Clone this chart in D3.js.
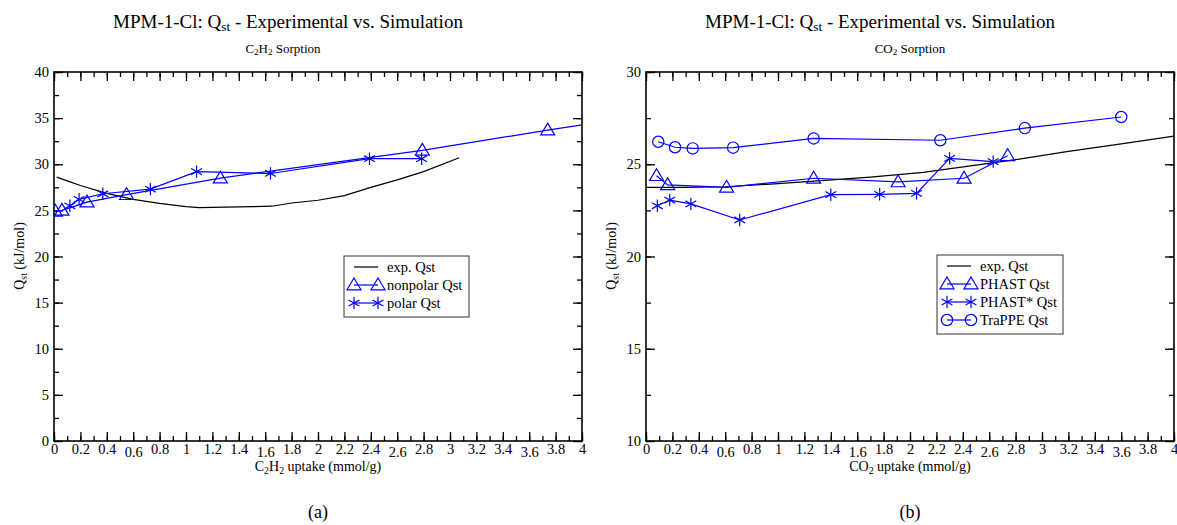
<!DOCTYPE html>
<html>
<head>
<meta charset="utf-8">
<script src="https://cdn.jsdelivr.net/npm/d3@7.9.0/dist/d3.min.js"></script>
<style>
  body { margin: 0; background: #fff; }
  svg { display: block; }
  text { font-family: "Liberation Serif", "Times New Roman", serif; fill: #000; }
</style>
</head>
<body>
<svg id="chart" width="1177" height="525"></svg>
<script>
// ---- data: panel (a), C2H2 ----
const c2h2Exp = [[0.02,28.6],[0.1,28.2],[0.2,27.7],[0.4,26.85],[0.6,26.2],[0.8,25.75],[1.0,25.4],[1.1,25.3],
  [1.3,25.35],[1.5,25.4],[1.65,25.45],[1.8,25.8],[2.0,26.1],[2.2,26.6],[2.4,27.5],[2.6,28.3],[2.8,29.2],[3.07,30.7]];
const c2h2Nonpolar = [[0.01,24.9],[0.06,25.0],[0.25,25.9],[0.55,26.7],[1.26,28.5],[2.79,31.5],[3.74,33.7],[4.3,34.9]];
const c2h2Polar = [[0.12,25.5],[0.19,26.2],[0.37,26.8],[0.73,27.3],[1.08,29.2],[1.64,29.0],[2.39,30.6],[2.785,30.6]];

// ---- data: panel (b), CO2 ----
const co2Exp = [[0,23.75],[0.3,23.75],[0.6,23.78],[1.0,23.95],[1.3,24.1],[1.7,24.3],[2.1,24.56],[2.5,24.95],
  [2.8,25.25],[3.2,25.7],[3.6,26.1],[4.0,26.53]];
const co2Phast = [[0.08,24.38],[0.164,23.88],[0.61,23.75],[1.27,24.24],[1.91,24.04],[2.41,24.24],[2.74,25.46]];
const co2PhastStar = [[0.086,22.75],[0.18,23.06],[0.34,22.85],[0.71,21.98],[1.40,23.35],[1.77,23.37],[2.05,23.42],[2.30,25.32],[2.63,25.14]];
const co2Trappe = [[0.093,26.22],[0.22,25.92],[0.354,25.86],[0.66,25.9],[1.27,26.4],[2.23,26.3],[2.87,26.96],[3.6,27.56]];

const xMajor = d3.range(0, 21).map(i => i / 5);
const xMinor = d3.range(0, 41).map(i => i / 10);

const svg = d3.select('#chart');
const blue = '#0000ff';

const markers = {
  triangle: 'M0,-7L7,4.8L-7,4.8Z',
  star: 'M0,-6.2V6.2M-5.4,-3.1L5.4,3.1M-5.4,3.1L5.4,-3.1',
  circle: d3.symbol(d3.symbolCircle, 100)(),
  none: null
};

function sub(textSel, parts, size) {
  // parts: [string, isSubscript]
  parts.forEach(([s, isSub]) => {
    textSel.append('tspan')
      .attr('font-size', isSub ? size * 0.7 : size)
      .attr('baseline-shift', isSub ? '-25%' : null)
      .text(s);
  });
}

function drawPanel(cfg) {
  const x = d3.scaleLinear().domain([0, 4]).range([cfg.left, cfg.right]);
  const y = d3.scaleLinear().domain(cfg.yDomain).range([441, 72]);
  const g = svg.append('g');
  const cx = (cfg.left + cfg.right) / 2;

  g.append('clipPath').attr('id', 'clip' + cfg.id)
    .append('rect').attr('x', cfg.left).attr('y', 72)
    .attr('width', cfg.right - cfg.left).attr('height', 441 - 72);

  // titles
  const t = g.append('text').attr('x', cx + cfg.titleDx).attr('y', 28).attr('text-anchor', 'middle');
  sub(t, [['MPM-1-Cl: Q', false], ['st', true], [' - Experimental vs. Simulation', false]], 19);
  const st = g.append('text').attr('x', cx + cfg.subDx).attr('y', 53).attr('text-anchor', 'middle');
  sub(st, cfg.subtitle, 13);

  // axes, inward ticks on all four sides
  const axes = [
    [d3.axisBottom(x), `translate(0,441)`, xMinor, xMajor, true],
    [d3.axisTop(x), `translate(0,72)`, xMinor, xMajor, false],
    [d3.axisLeft(y), `translate(${cfg.left},0)`, cfg.yMinor, cfg.yMajor, true],
    [d3.axisRight(y), `translate(${cfg.right},0)`, cfg.yMinor, cfg.yMajor, false]
  ];
  axes.forEach(([ax, tr, minor, major, labels], i) => {
    const gm = g.append('g').attr('transform', tr)
      .call(ax.tickValues(minor).tickSize(-5).tickFormat(''));
    gm.select('.domain').remove();
    const gM = g.append('g').attr('transform', tr)
      .call(ax.tickValues(major).tickSize(-9).tickPadding(labels ? (i === 0 ? 3 : 5) : 0)
        .tickFormat(labels ? d3.format('~g') : ''));
    gM.select('.domain').remove();
    gM.selectAll('text').attr('font-size', 14.5);
    gm.selectAll('line').attr('stroke-width', 1.3);
    gM.selectAll('line').attr('stroke-width', 1.3);
    if (i === 0) {
      // the .6 labels sit a little lower in the original render
      gM.selectAll('.tick text').filter(d => Math.abs(d - Math.floor(d) - 0.6) < 0.01)
        .attr('dy', '0.93em');
    }
  });

  g.append('rect').attr('x', cfg.left).attr('y', 72)
    .attr('width', cfg.right - cfg.left).attr('height', 441 - 72)
    .attr('fill', 'none').attr('stroke', '#000').attr('stroke-width', 1.6);

  // axis labels
  const xl = g.append('text').attr('x', cx).attr('y', 471).attr('text-anchor', 'middle');
  sub(xl, cfg.xLabel, 14);
  const yl = g.append('text').attr('transform', `translate(${cfg.left - 30},256) rotate(-90)`)
    .attr('text-anchor', 'middle');
  sub(yl, [['Q', false], ['st', true], [' (kJ/mol)', false]], 14);
  g.append('text').attr('x', cx).attr('y', 518).attr('text-anchor', 'middle')
    .attr('font-size', 18).text(cfg.panel);

  // series
  const line = d3.line().x(d => x(d[0])).y(d => y(d[1]));
  const plot = g.append('g').attr('clip-path', `url(#clip${cfg.id})`);
  cfg.series.forEach(s => {
    plot.append('path').datum(s.data).attr('d', line)
      .attr('fill', 'none').attr('stroke', s.color).attr('stroke-width', 1.2);
    if (s.marker !== 'none') {
      plot.selectAll(null).data(s.data).join('path')
        .attr('transform', d => `translate(${x(d[0])},${y(d[1])})`)
        .attr('d', markers[s.marker])
        .attr('fill', 'none').attr('stroke', s.color).attr('stroke-width', 1.2);
    }
  });

  // legend
  const lg = g.append('g');
  const rowH = 18;
  lg.append('rect').attr('x', cfg.legend[0]).attr('y', cfg.legend[1])
    .attr('width', cfg.legend[2]).attr('height', 7 + rowH * cfg.series.length)
    .attr('fill', '#fff').attr('stroke', '#333').attr('stroke-width', 1);
  cfg.series.forEach((s, i) => {
    const yy = cfg.legend[1] + 11 + i * rowH;
    const x0 = cfg.legend[0] + 10, x1 = x0 + 24;
    lg.append('line').attr('x1', x0).attr('x2', x1).attr('y1', yy).attr('y2', yy)
      .attr('stroke', s.color).attr('stroke-width', 1.2);
    if (s.marker !== 'none') {
      [x0, x1].forEach(px => lg.append('path').attr('transform', `translate(${px},${yy})`)
        .attr('d', markers[s.marker]).attr('fill', 'none').attr('stroke', s.color).attr('stroke-width', 1.2));
    }
    lg.append('text').attr('x', x1 + 9).attr('y', yy + 5).attr('font-size', 14.5).text(s.name);
  });
}

drawPanel({
  id: 'a', left: 54, right: 582, yDomain: [0, 40],
  yMajor: d3.range(0, 41, 5), yMinor: d3.range(0, 41, 2.5),
  subtitle: [['C', false], ['2', true], ['H', false], ['2', true], [' Sorption', false]],
  xLabel: [['C', false], ['2', true], ['H', false], ['2', true], [' uptake (mmol/g)', false]],
  panel: '(a)', titleDx: -30, subDx: -35,
  legend: [344, 256, 125],
  series: [
    { name: 'exp. Qst', data: c2h2Exp, color: '#000', marker: 'none' },
    { name: 'nonpolar Qst', data: c2h2Nonpolar, color: blue, marker: 'triangle' },
    { name: 'polar Qst', data: c2h2Polar, color: blue, marker: 'star' }
  ]
});

drawPanel({
  id: 'b', left: 646, right: 1174, yDomain: [10, 30],
  yMajor: d3.range(10, 31, 5), yMinor: d3.range(10, 31, 2.5),
  subtitle: [['CO', false], ['2', true], [' Sorption', false]],
  xLabel: [['CO', false], ['2', true], [' uptake (mmol/g)', false]],
  panel: '(b)', titleDx: -30, subDx: 0,
  legend: [937, 255, 126],
  series: [
    { name: 'exp. Qst', data: co2Exp, color: '#000', marker: 'none' },
    { name: 'PHAST Qst', data: co2Phast, color: blue, marker: 'triangle' },
    { name: 'PHAST* Qst', data: co2PhastStar, color: blue, marker: 'star' },
    { name: 'TraPPE Qst', data: co2Trappe, color: blue, marker: 'circle' }
  ]
});
</script>
</body>
</html>
